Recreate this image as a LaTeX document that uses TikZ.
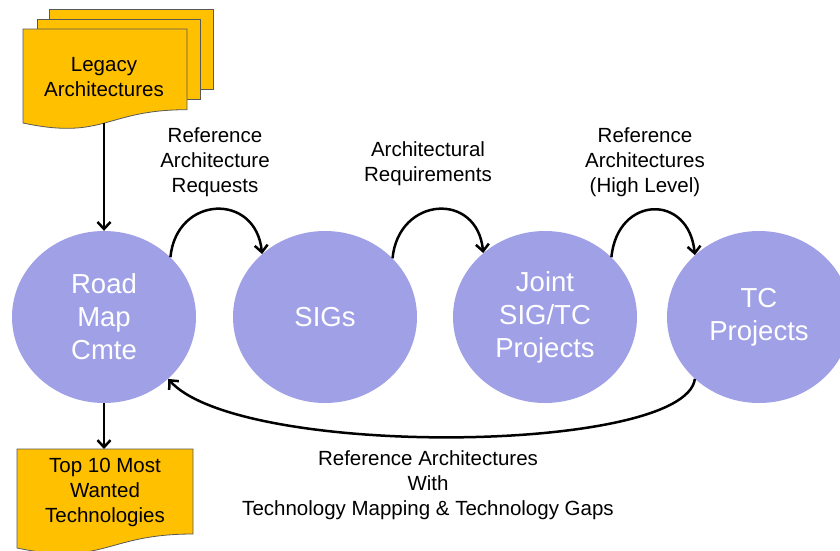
\documentclass[tikz,border=0pt]{standalone}
\usepackage{fontspec}
\setmainfont{Liberation Sans}
\usetikzlibrary{shapes.geometric,arrows.meta}
\definecolor{circfill}{RGB}{160,160,230}
\definecolor{docfill}{RGB}{255,192,0}
\begin{document}
\begin{tikzpicture}[x=1pt,y=-1pt,
 circ/.style={ellipse, fill=circfill, minimum width=184pt, minimum height=172pt, inner sep=0pt, text=white, align=center, font=\fontsize{27.5}{33}\selectfont},
 lbl/.style={align=center, font=\fontsize{20.5}{25}\selectfont, inner sep=0pt},
 doc/.style={fill=docfill, draw=black!65, line width=0.8pt},
 conn/.style={draw=black, line width=2.5pt, -{Straight Barb[length=7pt,width=13pt]}}]
\useasboundingbox (0,0) rectangle (840,550);
% Legacy architectures (multi-document)
\path[doc] (49,9) rectangle (213,89);
\path[doc] (37,19) rectangle (200,99);
\path[doc] (23,29) -- (187,29) -- (187,109.7) .. controls (105,109.7) and (105,140.4) .. (23,123) -- cycle;
\node[lbl] (legacy) at (104,77.5) {Legacy\\Architectures};
\coordinate (legbot) at (104,123);
% Top 10 document
\path[doc] (17,449) -- (193,449) -- (193,534) .. controls (105,534) and (105,566.3) .. (17,548) -- cycle;
\node[lbl] (top10) at (105,492) {Top 10 Most\\Wanted\\Technologies};
\coordinate (topdoc) at (104,449);
% circles
\node[circ] (rm) at (104,317) {Road\\Map\\Cmte};
\node[circ] (sig) at (325,317) {SIGs};
\node[circ] (joint) at (545,317) {Joint\\SIG/TC\\Projects};
\node[circ] (tc) at (759,317) {TC\\Projects};
% labels
\node[lbl] (l1) at (215,162) {Reference\\Architecture\\Requests};
\node[lbl] (l2) at (428,163.5) {Architectural\\Requirements};
\node[lbl] (l3) at (645,162) {Reference\\Architectures\\(High Level)};
\node[lbl] (l4) at (428,485) {Reference Architectures\\With\\Technology Mapping \& Technology Gaps};
% connectors
\draw[conn] (legbot) -- (rm);
\draw[conn] (rm) -- (topdoc);
\draw[conn] (rm.42) .. controls +(6,-62) and +(-6,-62) .. (sig.135);
\draw[conn] (sig.41) .. controls +(6,-62) and +(-6,-62) .. (joint.134);
\draw[conn] (joint.42) .. controls +(6,-62) and +(-6,-62) .. (tc.136);
\draw[conn] (tc.224) .. controls +(-10,75) and +(72,80) .. (rm.316);
\end{tikzpicture}
\end{document}
